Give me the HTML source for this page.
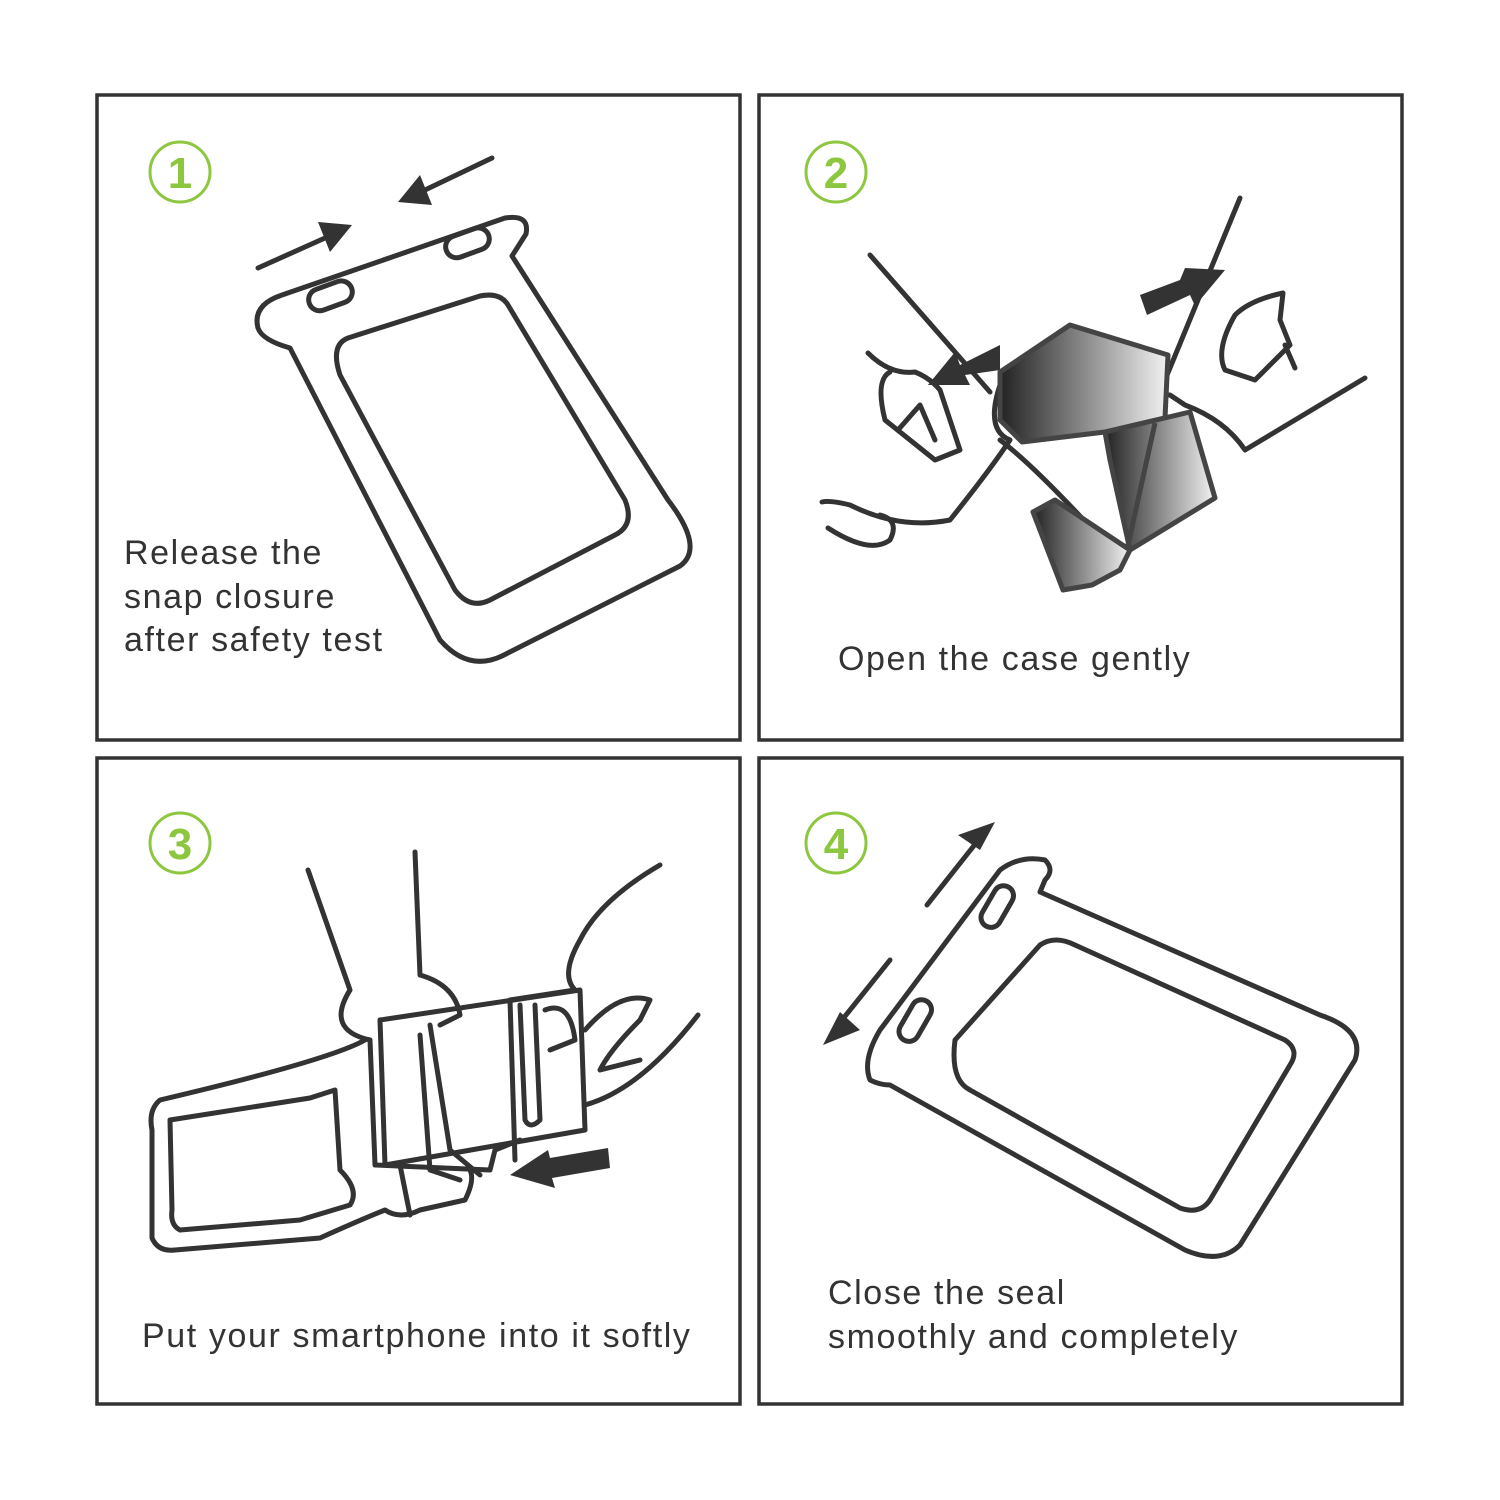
<!DOCTYPE html>
<html><head><style>
html,body{margin:0;padding:0;background:#fff}
svg{display:block}
text{font-family:"Liberation Sans",Arial,sans-serif}
</style></head><body>
<svg width="1500" height="1500" viewBox="0 0 1500 1500" xmlns="http://www.w3.org/2000/svg">
<defs>
<linearGradient id="g" x1="0" y1="0" x2="1" y2="0"><stop offset="0" stop-color="#222"/><stop offset="1" stop-color="#f2f2f2"/></linearGradient>
</defs>
<g fill="none" stroke="#333" stroke-width="3.5">
<rect x="97" y="95" width="643" height="645"/>
<rect x="759" y="95" width="643" height="645"/>
<rect x="97" y="758" width="643" height="646"/>
<rect x="759" y="758" width="643" height="646"/>
</g>
<g fill="none" stroke="#8dc63f" stroke-width="3">
<circle cx="180" cy="172" r="30"/><circle cx="836" cy="172" r="30"/>
<circle cx="180" cy="843" r="30"/><circle cx="836" cy="843" r="30"/>
</g>
<g fill="#8dc63f" font-size="44" font-weight="bold" text-anchor="middle">
<text x="180" y="188">1</text><text x="836" y="188">2</text>
<text x="180" y="859">3</text><text x="836" y="859">4</text>
</g>
<g fill="#333" font-size="34" letter-spacing="1.6">
<text x="124" y="564">Release the</text>
<text x="124" y="608">snap closure</text>
<text x="124" y="651">after safety test</text>
<text x="838" y="670">Open the case gently</text>
<text x="142" y="1347">Put your smartphone into it softly</text>
<text x="828" y="1304">Close the seal</text>
<text x="828" y="1348">smoothly and completely</text>
</g>
<g fill="none" stroke="#333" stroke-width="5" stroke-linejoin="round" stroke-linecap="round">
<path d="M258,328 Q252,305 282,295 L505,218 Q530,214 526,234 L512,256 L668,500 Q705,548 680,566 L502,656 Q468,672 440,640 L290,348 Q262,340 258,328 Z"/>
<path d="M348,338 L480,296 Q500,292 508,305 L625,500 Q635,525 615,535 L490,600 Q470,610 455,590 L340,375 Q330,345 348,338 Z"/>
<rect x="308" y="285" width="45" height="22" rx="11" transform="rotate(-20 330 296)"/>
<rect x="445" y="232" width="45" height="22" rx="11" transform="rotate(-20 467 243)"/>
<line x1="258" y1="268" x2="325" y2="238"/>
<line x1="492" y1="158" x2="425" y2="190"/>
<line x1="870" y1="255" x2="990" y2="392"/>
<line x1="1240" y1="198" x2="1165" y2="380"/>
<path d="M868,353 Q890,375 915,372 Q930,378 940,390 L960,450 L935,460 L885,420 Q875,380 890,372"/>
<path d="M898,430 L920,405 L935,440"/>
<path d="M1000,385 Q985,430 1010,440 Q990,470 950,520 Q900,530 850,505 Q830,500 822,502"/>
<path d="M828,528 Q870,555 890,540 Q900,520 880,515"/>
<path d="M1165,380 Q1155,395 1170,395 L1185,405 Q1225,420 1245,450 L1275,432 L1365,378"/>
<path d="M1283,293 Q1250,300 1235,315 Q1215,350 1225,370 L1255,380 L1290,345 L1280,320 Z"/>
<path d="M1285,345 L1295,368"/>
<path d="M1000,440 Q1040,470 1120,560"/>
<path d="M308,870 L350,990 Q325,1030 370,1040 L375,1165 L490,1170 L495,1150 L520,1140"/>
<path d="M415,852 L420,975 Q455,985 460,1015 L440,1025"/>
<path d="M660,865 Q600,900 580,940 Q560,975 575,990 L510,1000 L515,1160"/>
<path d="M380,1020 L580,990 L585,1130 L385,1165 Z"/>
<path d="M420,1035 L430,1170 L460,1180 M430,1025 L450,1150 L480,1175"/>
<path d="M520,1005 L525,1120 Q530,1130 540,1120 L535,1005"/>
<path d="M545,1010 Q570,1000 575,1040 L550,1050"/>
<path d="M585,1030 Q620,990 650,1000 L640,1020 Q610,1050 600,1070 L640,1060"/>
<path d="M585,1105 Q640,1090 698,1015"/>
<path d="M365,1040 Q330,1060 160,1100 Q148,1110 152,1130 L152,1238 Q158,1252 175,1250 L320,1238 Q360,1220 385,1210 Q400,1220 420,1210 L465,1200 Q475,1180 470,1170"/>
<path d="M170,1120 L310,1098 L335,1090 L340,1170 Q360,1190 350,1205 L300,1220 L180,1230 Q170,1225 172,1210 Z"/>
<line x1="400" y1="1165" x2="410" y2="1215"/>
<path d="M870,1080 Q862,1060 880,1030 L1000,870 Q1020,855 1045,860 Q1055,870 1045,880 L1040,892 L1320,1015 Q1365,1030 1355,1060 L1240,1245 Q1220,1265 1185,1250 L890,1085 Q880,1085 870,1080 Z"/>
<path d="M955,1040 L1040,945 Q1055,935 1075,945 L1285,1040 Q1300,1050 1290,1065 L1210,1200 Q1200,1215 1180,1208 L970,1090 Q950,1080 955,1040 Z"/>
<rect x="975" y="897" width="45" height="20" rx="10" transform="rotate(-60 997 907)"/>
<rect x="893" y="1011" width="45" height="20" rx="10" transform="rotate(-60 915 1021)"/>
<line x1="927" y1="905" x2="980" y2="838"/>
<line x1="890" y1="960" x2="838" y2="1025"/>
</g>
<g fill="#333">
<polygon points="352,225 318,222 330,252"/>
<polygon points="398,202 432,205 420,175"/>
<polygon points="1000,370 1000,345 960,365 955,352 928,385 970,385 965,375"/>
<polygon points="1140,295 1147,315 1190,295 1195,306 1225,270 1185,268 1180,280"/>
<polygon points="510,1175 548,1150 550,1158 608,1148 610,1168 552,1178 555,1188"/>
<polygon points="995,822 958,835 980,850"/>
<polygon points="823,1045 860,1030 840,1012"/>
</g>
<g stroke="#444" stroke-width="5" stroke-linejoin="round">
<polygon fill="url(#g)" points="1000,372 1070,325 1168,355 1165,418 1105,432 1022,442 1000,420"/>
<polygon fill="url(#g)" points="1105,432 1190,412 1215,498 1130,550 1110,460"/>
<polygon fill="url(#g)" points="1033,512 1055,500 1130,550 1120,570 1092,585 1063,590"/>
<line x1="1155" y1="423" x2="1128" y2="545"/>
</g>
</svg>
</body></html>
